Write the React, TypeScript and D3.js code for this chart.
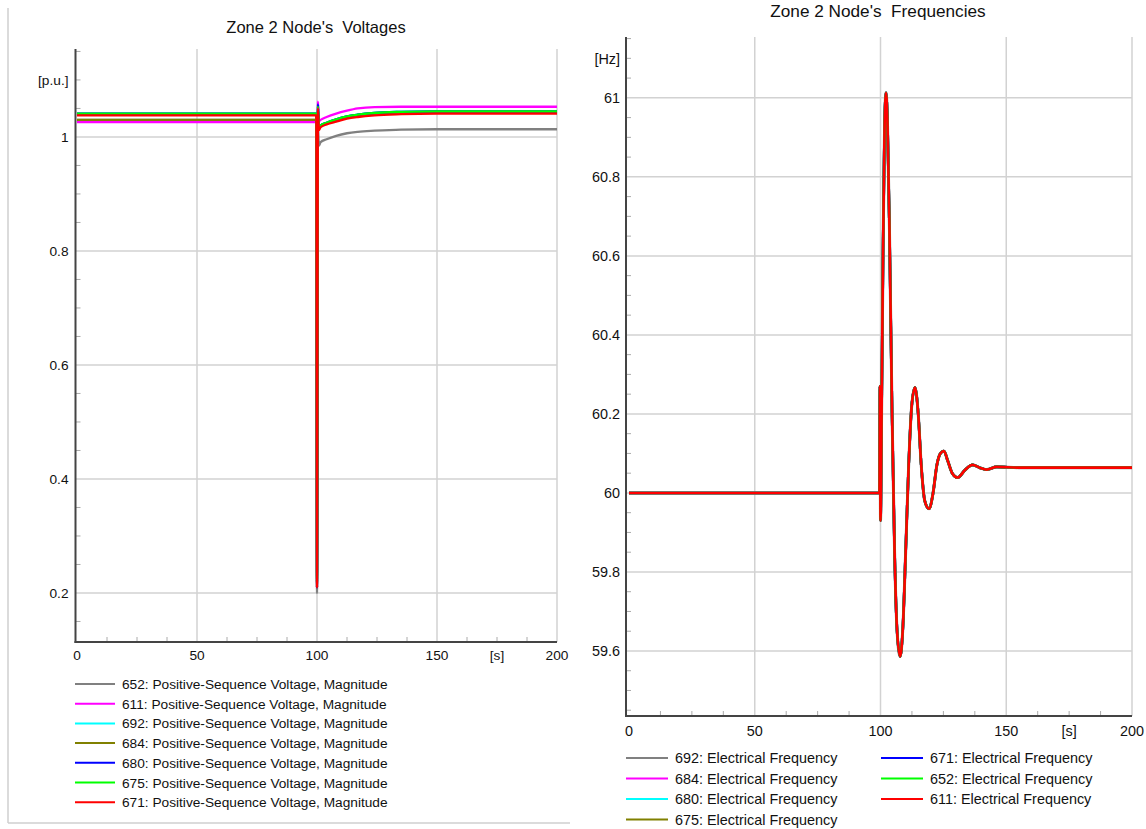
import React from 'react';
import * as d3 from 'd3';

// ---------- DATA ----------
const voltTime = [0, 99.7, 100.0, 100.4, 100.8, 101.5, 104, 108, 112.5, 117, 124, 135, 150, 200];
const v652 = [1.030, 1.030, 0.200, 1.020, 0.985, 0.991, 0.996, 1.002, 1.0065, 1.009, 1.011, 1.013, 1.0135, 1.0135];
const v611 = [1.026, 1.026, 0.230, 1.062, 1.028, 1.030, 1.035, 1.041, 1.046, 1.050, 1.0525, 1.053, 1.053, 1.053];
const v692 = [1.041, 1.041, 0.220, 1.054, 1.015, 1.020, 1.025, 1.031, 1.036, 1.039, 1.042, 1.044, 1.045, 1.045];
const v684 = [1.030, 1.030, 0.210, 1.050, 1.015, 1.019, 1.024, 1.030, 1.035, 1.038, 1.041, 1.043, 1.044, 1.044];
const v680 = [1.041, 1.041, 0.210, 1.057, 1.015, 1.020, 1.025, 1.031, 1.036, 1.039, 1.042, 1.044, 1.045, 1.045];
const v675 = [1.041, 1.041, 0.220, 1.053, 1.015, 1.020, 1.025, 1.031, 1.036, 1.039, 1.042, 1.044, 1.045, 1.045];
const v671 = [1.038, 1.038, 0.210, 1.050, 1.012, 1.017, 1.022, 1.027, 1.032, 1.035, 1.038, 1.040, 1.041, 1.041];

const voltNames = ['652', '611', '692', '684', '680', '675', '671'];
const voltValues = [v652, v611, v692, v684, v680, v675, v671];
const voltLabel = ': Positive-Sequence Voltage, Magnitude';

const freqTime = [0, 99.6, 99.8, 100.0, 100.5, 101.0, 101.6, 102.2, 102.8, 103.6, 104.6, 105.6, 106.6, 107.8,
  108.9, 110.0, 111.2, 112.4, 113.7, 115.0, 116.2, 117.6, 119.3, 120.9, 122.4, 123.8, 125.2, 126.8, 128.5,
  130.7, 133.6, 136.6, 139.4, 142.2, 146.2, 155, 200];
const freqMain = [60.0, 60.0, 60.27, 59.93, 60.25, 60.60, 60.92, 61.013, 60.93, 60.65, 60.20, 59.85, 59.65, 59.586,
  59.66, 59.85, 60.07, 60.22, 60.267, 60.20, 60.07, 59.98, 59.96, 60.0, 60.07, 60.10, 60.106, 60.08, 60.05,
  60.039, 60.058, 60.071, 60.064, 60.059, 60.066, 60.064, 60.064];

const freqNames = ['692', '684', '680', '675', '671', '652', '611'];
const freqLabel = ': Electrical Frequency';

const xMajor = [0, 50, 100, 150, 175, 200];
const xMajorLabels = ['0', '50', '100', '150', '[s]', '200'];
const xGrid = [50, 100, 150, 200];
const xMinor = [12.5, 25, 37.5, 62.5, 75, 87.5, 112.5, 125, 137.5, 162.5, 175, 187.5];

const vTicks = [0.2, 0.4, 0.6, 0.8, 1.0, 1.1];
const vTickLabels = ['0.2', '0.4', '0.6', '0.8', '1', '[p.u.]'];
const vGrid = [0.2, 0.4, 0.6, 0.8, 1.0];
const vMinor = [0.15, 0.25, 0.3, 0.35, 0.45, 0.5, 0.55, 0.65, 0.7, 0.75, 0.85, 0.9, 0.95, 1.05, 1.1, 1.15];

const fTicks = [59.6, 59.8, 60.0, 60.2, 60.4, 60.6, 60.8, 61.0, 61.1];
const fTickLabels = ['59.6', '59.8', '60', '60.2', '60.4', '60.6', '60.8', '61', '[Hz]'];
const fGrid = [59.6, 59.8, 60.0, 60.2, 60.4, 60.6, 60.8, 61.0];
const fMinor = [59.45, 59.5, 59.55, 59.65, 59.7, 59.75, 59.85, 59.9, 59.95, 60.05, 60.1, 60.15, 60.25, 60.3, 60.35,
  60.45, 60.5, 60.55, 60.65, 60.7, 60.75, 60.85, 60.9, 60.95, 61.05, 61.1, 61.15];

// ---------- STYLE ----------
const colorMap: Record<string, string> = {
  '652': '#808080', '611': '#ff00ff', '692': '#00ffff', '684': '#808000',
  '680': '#0000ff', '675': '#00ff00', '671': '#ff0000',
};
const freqColorMap: Record<string, string> = {
  '692': '#808080', '684': '#ff00ff', '680': '#00ffff', '675': '#808000',
  '671': '#0000ff', '652': '#00ff00', '611': '#ff0000',
};
const FONT = '"Liberation Sans", Arial, Helvetica, sans-serif';
const GRID = '#d2d2d2';
const AXIS = '#444';

type AxisCfg = {
  x: d3.ScaleLinear<number, number>;
  y: d3.ScaleLinear<number, number>;
  axisX: number; top: number; bottom: number; right: number;
  yTicks: number[]; yLabels: string[]; yGrid: number[]; yMinor: number[];
  labelRight: number; xLabelBase: number; fs: number;
};

function Axes(c: AxisCfg) {
  const { x, y } = c;
  return (
    <g>
      {c.yGrid.map((v) => (
        <line key={'yg' + v} x1={c.axisX} x2={c.right} y1={y(v)} y2={y(v)} stroke={GRID} strokeWidth={1.5} />
      ))}
      {xGrid.map((v) => (
        <line key={'xg' + v} x1={x(v)} x2={x(v)} y1={c.top} y2={c.bottom} stroke={GRID} strokeWidth={1.5} />
      ))}
      {c.yMinor.map((v) => (
        <line key={'ym' + v} x1={c.axisX} x2={c.axisX + 5} y1={y(v)} y2={y(v)} stroke="#aaa" strokeWidth={1} />
      ))}
      {xMinor.map((v) => (
        <line key={'xm' + v} x1={x(v)} x2={x(v)} y1={c.bottom} y2={c.bottom - 5} stroke="#aaa" strokeWidth={1} />
      ))}
      <line x1={c.axisX} x2={c.axisX} y1={c.top} y2={c.bottom + 1} stroke={AXIS} strokeWidth={2} />
      <line x1={c.axisX - 1} x2={c.right} y1={c.bottom} y2={c.bottom} stroke={AXIS} strokeWidth={2} />
      {c.yTicks.map((v, i) => (
        <text key={'yl' + v} x={c.labelRight} y={y(v) + c.fs * 0.36} textAnchor="end" fontSize={c.fs} fill="#111" fontFamily={FONT}>
          {c.yLabels[i]}
        </text>
      ))}
      {xMajor.map((v, i) => (
        <text key={'xl' + v} x={x(v)} y={c.xLabelBase} textAnchor="middle" fontSize={c.fs} fill="#111" fontFamily={FONT}>
          {xMajorLabels[i]}
        </text>
      ))}
    </g>
  );
}

export default function App() {
  // Left: voltages
  const xV = d3.scaleLinear().domain([0, 200]).range([77, 557]);
  const yV = d3.scaleLinear().domain([0.114, 1.155]).range([642, 48.6]);
  const lineV = d3.line<[number, number]>().x((d) => xV(d[0])).y((d) => yV(d[1])).curve(d3.curveMonotoneX);

  // Right: frequencies
  const xF = d3.scaleLinear().domain([0, 200]).range([629, 1132]);
  const yF = d3.scaleLinear().domain([59.4354, 61.154]).range([716, 37]);
  const lineF = d3.line<[number, number]>().x((d) => xF(d[0])).y((d) => yF(d[1])).curve(d3.curveMonotoneX);

  const fsL = 13.7;
  const fsR = 14.4;

  return (
    <svg width={1146} height={829} style={{ position: 'absolute', left: 0, top: 0, background: '#fff' }}>
      <rect x={0} y={0} width={1146} height={829} fill="#fff" />
      {/* left panel frame */}
      <line x1={8} x2={8} y1={8} y2={823} stroke="#cfcfcf" strokeWidth={1.5} />
      <line x1={8} x2={570} y1={823} y2={823} stroke="#cfcfcf" strokeWidth={1.5} />

      {/* LEFT CHART */}
      <text x={316} y={32.5} textAnchor="middle" fontSize={16.5} fontFamily={FONT} fill="#111" style={{ whiteSpace: 'pre' }}>
        {"Zone 2 Node's  Voltages"}
      </text>
      <Axes x={xV} y={yV} axisX={75.5} top={49} bottom={642} right={557}
        yTicks={vTicks} yLabels={vTickLabels} yGrid={vGrid} yMinor={vMinor}
        labelRight={68.5} xLabelBase={660} fs={fsL} />
      <g>
        {voltNames.map((n, i) => (
          <path key={n} d={lineV(voltTime.map((t, j) => [t, voltValues[i][j]]) as [number, number][]) || ''}
            fill="none" stroke={colorMap[n]} strokeWidth={2.3} strokeLinejoin="round" />
        ))}
      </g>
      <g>
        {voltNames.map((n, i) => {
          const yy = 684 + i * 19.7;
          return (
            <g key={'lv' + n}>
              <line x1={75} x2={115} y1={yy} y2={yy} stroke={colorMap[n]} strokeWidth={2} />
              <text x={122} y={yy + 5} fontSize={fsL} fontFamily={FONT} fill="#111">{n + voltLabel}</text>
            </g>
          );
        })}
      </g>

      {/* RIGHT CHART */}
      <text x={878} y={17} textAnchor="middle" fontSize={17.2} fontFamily={FONT} fill="#111" style={{ whiteSpace: 'pre' }}>
        {"Zone 2 Node's  Frequencies"}
      </text>
      <Axes x={xF} y={yF} axisX={626} top={37} bottom={716} right={1132}
        yTicks={fTicks} yLabels={fTickLabels} yGrid={fGrid} yMinor={fMinor}
        labelRight={620} xLabelBase={736} fs={fsR} />
      <g>
        {freqNames.map((n, i) => (
          <path key={n} d={lineF(freqTime.map((t, j) => [t, freqMain[j]]) as [number, number][]) || ''}
            fill="none" stroke={freqColorMap[n]} strokeWidth={i === 0 ? 3.0 : 2.6} strokeLinejoin="round" />
        ))}
      </g>
      <g>
        {freqNames.map((n, i) => {
          const col = i < 4 ? 0 : 1;
          const row = i < 4 ? i : i - 4;
          const lx = col === 0 ? 626 : 881;
          const yy = 758 + row * 20.5;
          return (
            <g key={'lf' + n}>
              <line x1={lx} x2={lx + 42} y1={yy} y2={yy} stroke={freqColorMap[n]} strokeWidth={2} />
              <text x={lx + 49} y={yy + 5} fontSize={fsR} fontFamily={FONT} fill="#111">{n + freqLabel}</text>
            </g>
          );
        })}
      </g>
    </svg>
  );
}
